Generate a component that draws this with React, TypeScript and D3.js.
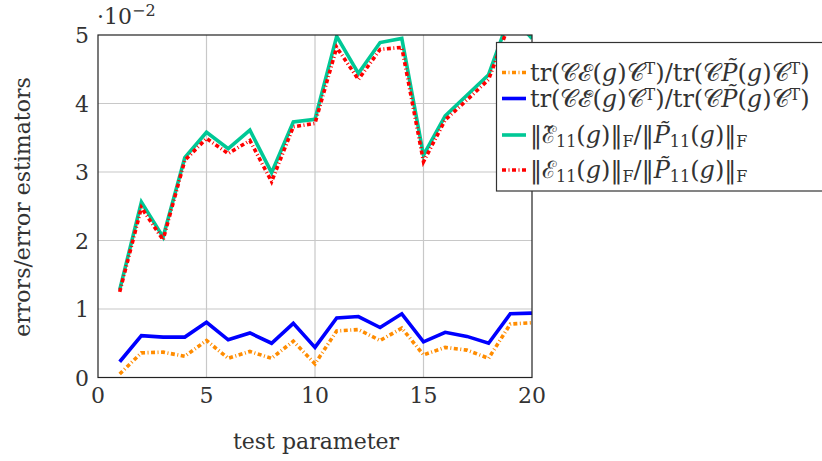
import React, { useRef, useEffect } from 'react';
import * as d3 from 'd3';

// test parameter values
const params = [1, 2, 3, 4, 5, 6, 7, 8, 9, 10, 11, 12, 13, 14, 15, 16, 17, 18, 19, 20];

// all series in units of 10^-2
const trEstimate = [0.05, 0.36, 0.37, 0.31, 0.54, 0.28, 0.38, 0.28, 0.53, 0.2, 0.68, 0.7, 0.54, 0.72, 0.33, 0.44, 0.4, 0.28, 0.78, 0.8];
const trTildeEstimate = [0.23, 0.61, 0.59, 0.59, 0.805, 0.55, 0.65, 0.5, 0.79, 0.44, 0.87, 0.89, 0.73, 0.93, 0.52, 0.66, 0.6, 0.5, 0.93, 0.94];
const normTilde = [1.28, 2.56, 2.05, 3.21, 3.58, 3.34, 3.61, 2.99, 3.73, 3.77, 4.98, 4.44, 4.89, 4.95, 3.245, 3.82, 4.12, 4.42, 5.3, 4.95];
const normExact = [1.25, 2.48, 2.01, 3.17, 3.49, 3.27, 3.46, 2.86, 3.66, 3.71, 4.82, 4.35, 4.79, 4.82, 3.15, 3.76, 4.05, 4.35, 5.2, 5.0];

const xTicks = [0, 5, 10, 15, 20];
const yTicks = [0, 1, 2, 3, 4, 5];

const FONT = 'DejaVu Serif';
const TEXT = '#333';

const series = [
    { values: trEstimate, color: '#ff8c00', dash: '4,2.5,1,2.5' },
    { values: trTildeEstimate, color: '#0000ff', dash: null },
    { values: normTilde, color: '#00c896', dash: null },
    { values: normExact, color: '#ff0000', dash: '4,2.5,1,2.5' },
];

const App = () => {
    const svgRef = useRef(null);

    useEffect(() => {
        const svg = d3.select(svgRef.current);
        const width = 822;
        const height = 461;
        const left = 98, right = 532, top = 35, bottom = 377.5;

        svg.selectAll('*').remove();
        svg.attr('width', width).attr('height', height);

        const x = d3.scaleLinear().domain([0, 20]).range([left, right]);
        const y = d3.scaleLinear().domain([0, 5]).range([bottom, top]);

        svg.append('rect').attr('width', width).attr('height', height).attr('fill', '#fff');

        // grid
        svg.append('g').selectAll('line.vx')
            .data(xTicks.slice(1, -1))
            .enter().append('line')
            .attr('x1', d => x(d)).attr('x2', d => x(d))
            .attr('y1', top).attr('y2', bottom)
            .attr('stroke', '#c8c8c8').attr('stroke-width', 1.2);
        svg.append('g').selectAll('line.hy')
            .data(yTicks.slice(1, -1))
            .enter().append('line')
            .attr('y1', d => y(d)).attr('y2', d => y(d))
            .attr('x1', left).attr('x2', right)
            .attr('stroke', '#c8c8c8').attr('stroke-width', 1.2);

        // clip
        svg.append('defs').append('clipPath').attr('id', 'plot-clip')
            .append('rect').attr('x', left).attr('y', top)
            .attr('width', right - left).attr('height', bottom - top);

        const line = d3.line().x((d, i) => x(params[i])).y(d => y(d));

        const lines = svg.append('g').attr('clip-path', 'url(#plot-clip)');
        series.forEach(s => {
            lines.append('path')
                .attr('d', line(s.values))
                .attr('fill', 'none')
                .attr('stroke', s.color)
                .attr('stroke-width', 3.6)
                .attr('stroke-dasharray', s.dash);
        });

        // frame
        svg.append('rect')
            .attr('x', left).attr('y', top)
            .attr('width', right - left).attr('height', bottom - top)
            .attr('fill', 'none').attr('stroke', '#222').attr('stroke-width', 1.2);

        const txt = (sel, size = 22) => sel.style('font-family', FONT).style('font-size', size + 'px').attr('fill', TEXT);

        // tick labels
        svg.append('g').selectAll('text')
            .data(xTicks)
            .enter().append('text')
            .attr('x', d => x(d)).attr('y', 403)
            .attr('text-anchor', 'middle')
            .call(txt)
            .text(d => d);
        svg.append('g').selectAll('text')
            .data(yTicks)
            .enter().append('text')
            .attr('x', 89).attr('y', d => y(d) + 8)
            .attr('text-anchor', 'end')
            .call(txt)
            .text(d => d);

        // scale factor
        const sf = svg.append('text').attr('x', 97).attr('y', 24).call(txt);
        sf.append('tspan').text('·10');
        sf.append('tspan').attr('dy', -8).style('font-size', '16px').text('−2');

        // axis labels
        svg.append('text')
            .attr('x', 316).attr('y', 449)
            .attr('text-anchor', 'middle')
            .call(txt)
            .text('test parameter');
        svg.append('text')
            .attr('transform', 'translate(30,207) rotate(-90)')
            .attr('text-anchor', 'middle')
            .call(txt)
            .text('errors/error estimators');

        // legend
        const lg = svg.append('g');
        lg.append('rect')
            .attr('x', 496.5).attr('y', 42.5)
            .attr('width', 340).attr('height', 148.5)
            .attr('fill', '#fff').attr('stroke', '#333').attr('stroke-width', 1.2);

        const rowY = [72.5, 98.5, 135, 170];
        series.forEach((s, i) => {
            lg.append('line')
                .attr('x1', 502).attr('x2', 526)
                .attr('y1', rowY[i]).attr('y2', rowY[i])
                .attr('stroke', s.color).attr('stroke-width', 3.6)
                .attr('stroke-dasharray', s.dash);
        });

        const addText = (i, parts) => {
            const t = lg.append('text')
                .attr('x', 530).attr('y', rowY[i] + 8)
                .call(txt, 24);
            parts.forEach(p => {
                const ts = t.append('tspan').text(p.t);
                if (p.it) ts.style('font-style', 'italic');
                if (p.sup) ts.attr('baseline-shift', '45%').style('font-size', '16px');
                if (p.sub) ts.attr('baseline-shift', '-25%').style('font-size', '16px');
            });
        };

        const C = { t: '𝒞' };
        const trDen = [{ t: ')/tr(' }, C, { t: 'P̃', it: true }, { t: '(' }, { t: 'g', it: true }, { t: ')' }, C, { t: 'T', sup: true }, { t: ')' }];
        addText(0, [{ t: 'tr(' }, C, { t: 'ℰ' }, { t: '(' }, { t: 'g', it: true }, { t: ')' }, C, { t: 'T', sup: true }, ...trDen]);
        addText(1, [{ t: 'tr(' }, C, { t: 'ℰ̃' }, { t: '(' }, { t: 'g', it: true }, { t: ')' }, C, { t: 'T', sup: true }, ...trDen]);
        addText(2, [{ t: '‖ℰ̃' }, { t: '11', sub: true }, { t: '(' }, { t: 'g', it: true }, { t: ')‖' }, { t: 'F', sub: true }, { t: '/‖' }, { t: 'P̃', it: true }, { t: '11', sub: true }, { t: '(' }, { t: 'g', it: true }, { t: ')‖' }, { t: 'F', sub: true }]);
        addText(3, [{ t: '‖ℰ' }, { t: '11', sub: true }, { t: '(' }, { t: 'g', it: true }, { t: ')‖' }, { t: 'F', sub: true }, { t: '/‖' }, { t: 'P̃', it: true }, { t: '11', sub: true }, { t: '(' }, { t: 'g', it: true }, { t: ')‖' }, { t: 'F', sub: true }]);
    }, []);

    return (
        <div style={{ position: 'absolute', left: 0, top: 0 }}>
            <svg ref={svgRef}></svg>
        </div>
    );
};

export default App;
